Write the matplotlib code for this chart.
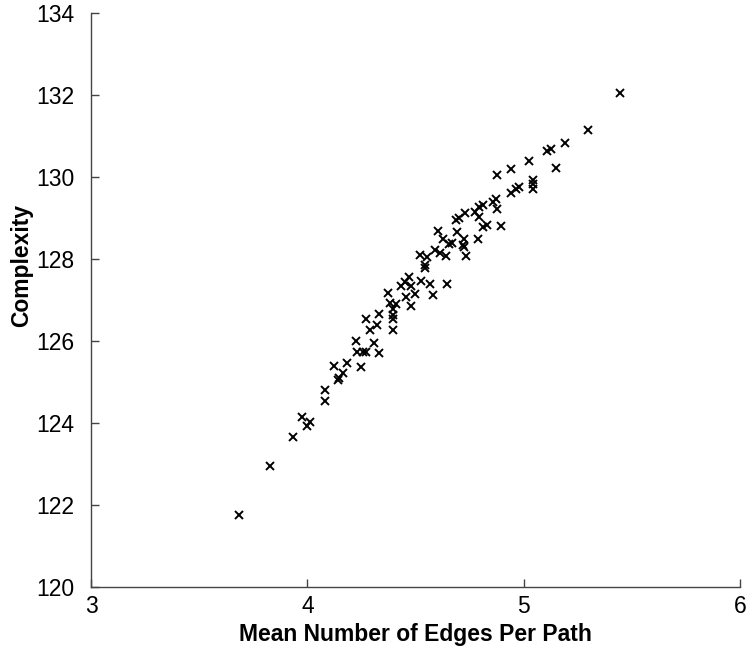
import matplotlib
matplotlib.use("Agg")
import matplotlib.pyplot as plt

# mean number of edges per path vs complexity
edges = [5.443, 5.295, 5.193, 5.106, 5.125, 5.023, 5.150, 4.940, 4.877, 5.044,
         5.044, 5.044, 4.980, 4.963, 4.940, 4.873, 4.856, 4.878, 4.813, 4.795,
         4.773, 4.730, 4.702, 4.687, 4.792, 4.832, 4.813, 4.897, 4.603, 4.690,
         4.625, 4.722, 4.789, 4.653, 4.667, 4.718, 4.724, 4.588, 4.611, 4.639,
         4.731, 4.520, 4.554, 4.545, 4.545, 4.468, 4.449, 4.526, 4.569, 4.647,
         4.435, 4.481, 4.582, 4.375, 4.455, 4.499, 4.384, 4.409, 4.477, 4.398,
         4.394, 4.394, 4.332, 4.269, 4.323, 4.289, 4.394, 4.227, 4.310, 4.230,
         4.258, 4.273, 4.333, 4.125, 4.184, 4.249, 4.165, 4.144, 4.140, 4.080,
         4.080, 3.977, 4.011, 3.999, 3.934, 3.829, 3.684]
complexity = [132.06, 131.15, 130.84, 130.64, 130.68, 130.38, 130.22, 130.20, 130.05, 129.93,
              129.82, 129.71, 129.76, 129.71, 129.60, 129.46, 129.39, 129.22, 129.32, 129.26,
              129.15, 129.13, 129.00, 128.95, 129.02, 128.84, 128.79, 128.81, 128.69, 128.66,
              128.49, 128.50, 128.50, 128.37, 128.38, 128.35, 128.29, 128.22, 128.15, 128.07,
              128.07, 128.10, 128.05, 127.85, 127.77, 127.56, 127.45, 127.46, 127.40, 127.38,
              127.33, 127.33, 127.12, 127.18, 127.07, 127.15, 126.93, 126.91, 126.85, 126.77,
              126.64, 126.54, 126.65, 126.53, 126.38, 126.27, 126.27, 126.00, 125.95, 125.74,
              125.74, 125.74, 125.71, 125.39, 125.46, 125.36, 125.21, 125.11, 125.05, 124.80,
              124.54, 124.15, 124.02, 123.93, 123.65, 122.95, 121.76]

xticks = [3, 4, 5, 6]
yticks = [120, 122, 124, 126, 128, 130, 132, 134]

plt.rcParams['font.family'] = ['Liberation Sans', 'DejaVu Sans']

fig = plt.figure(figsize=(7.56, 6.54), dpi=100)
ax = fig.add_axes([0.1204, 0.1024, 0.8585, 0.8777])

ax.plot(edges, complexity, 'x', color='black', markersize=5.5, markeredgewidth=1.4)

ax.set_xlim(3, 6)
ax.set_ylim(120, 134)
ax.set_xticks(xticks)
ax.set_yticks(yticks)

ax.spines['top'].set_visible(False)
ax.spines['right'].set_visible(False)
for s in ['left', 'bottom']:
    ax.spines[s].set_color('#444444')
    ax.spines[s].set_linewidth(1.0)

ax.tick_params(direction='in', length=6, width=1, color='#444444', labelsize=16.5)
ax.tick_params(axis='y', pad=12)
ax.tick_params(axis='x', pad=6)

ax.set_xlabel('Mean Number of Edges Per Path', fontsize=16.5, fontweight='bold', labelpad=3)
ax.set_ylabel('Complexity', fontsize=16.5, fontweight='bold')
ax.yaxis.set_label_coords(-0.089, 0.561)

fig.savefig('out.png', dpi=100)
